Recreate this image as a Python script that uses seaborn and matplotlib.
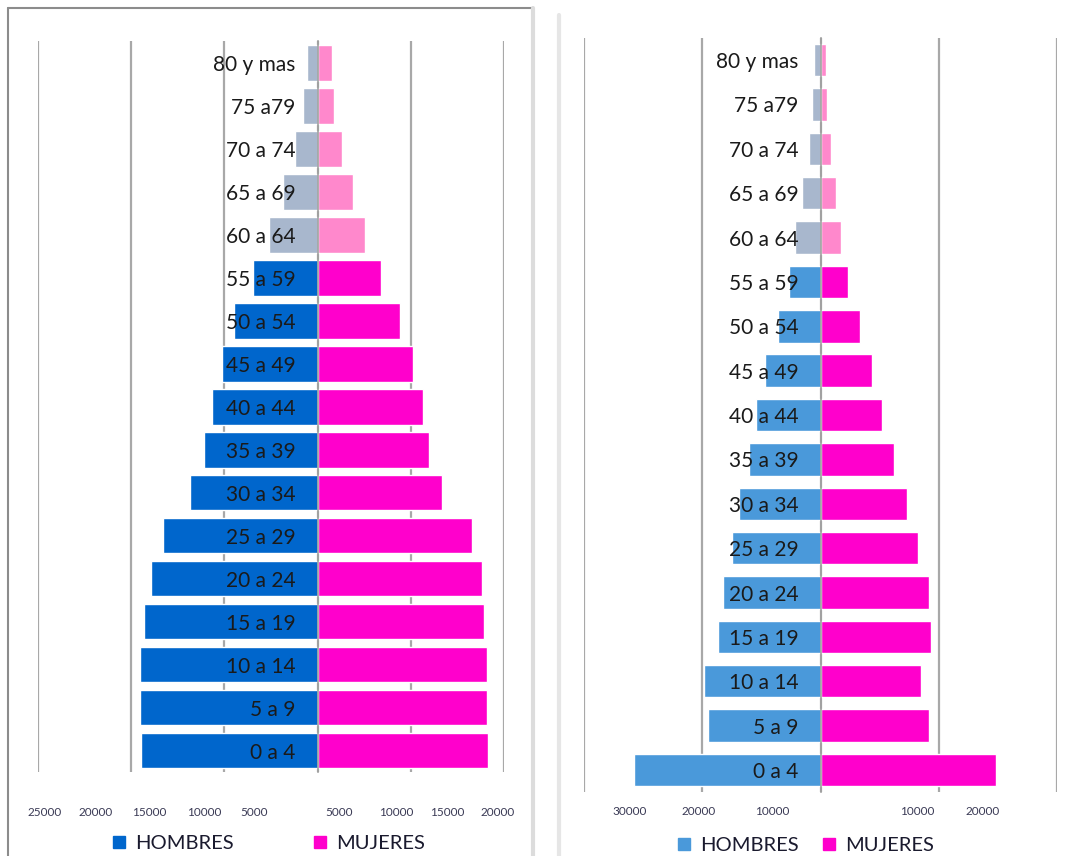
import numpy as np
import pandas as pd
import matplotlib.pyplot as plt
import seaborn as sns
from matplotlib.lines import Line2D

# grupos de edad, de arriba hacia abajo
edades = ['80 y mas', '75 a79', '70 a 74', '65 a 69', '60 a 64', '55 a 59', '50 a 54',
          '45 a 49', '40 a 44', '35 a 39', '30 a 34', '25 a 29', '20 a 24', '15 a 19',
          '10 a 14', '5 a 9', '0 a 4']
mayores = ['80 y mas', '75 a79', '70 a 74', '65 a 69', '60 a 64']

# piramide izquierda
hombres_1 = [1100, 1550, 2400, 3700, 5250, 6900, 9000, 10250, 11300, 12200, 13700,
             16600, 17900, 18600, 19100, 19050, 18950]
mujeres_1 = [1500, 1800, 2650, 3800, 5050, 6800, 8800, 10200, 11300, 11900, 13400,
             16550, 17600, 17900, 18200, 18150, 18300]

# piramide derecha
hombres_2 = [775, 1040, 1460, 2330, 3250, 4040, 5400, 7030, 8200, 9100, 10300,
             11200, 12400, 13060, 14800, 14300, 23650]
mujeres_2 = [725, 800, 1360, 2000, 2650, 3500, 4960, 6500, 7860, 9370, 10950,
             12370, 13800, 14000, 12800, 13800, 22300]

# etiquetas del eje x (tal como aparecen, desalineadas)
etiq_1 = ['25000', '20000', '15000', '10000', '5000', '5000', '10000', '15000', '20000']
pos_etiq_1 = [-29280, -23780, -18020, -12190, -6850, 2300, 8460, 13950, 19360]
etiq_2 = ['30000', '20000', '10000', '10000', '20000']
pos_etiq_2 = [-24170, -15420, -6150, 12220, 20570]

sns.set_style('white')
plt.rcParams['font.family'] = ['Lato', 'DejaVu Sans']


def armar_tabla(hombres, mujeres):
    filas = []
    for e, h, m in zip(edades, hombres, mujeres):
        sufijo = ' mayor' if e in mayores else ''
        filas.append({'edad': e, 'valor': -h, 'grupo': 'H' + sufijo})
        filas.append({'edad': e, 'valor': m, 'grupo': 'M' + sufijo})
    return pd.DataFrame(filas)


def piramide(ax, tabla, colores, ancho, limites, paso, etiq, pos_etiq, pad_x):
    sns.barplot(data=tabla, x='valor', y='edad', hue='grupo', order=edades,
                palette=colores, dodge=False, orient='h', width=ancho,
                errorbar=None, legend=False, ax=ax, saturation=1)
    ax.set_xlim(*limites)
    ax.set_ylim(len(edades) - 0.5, -0.5)
    ax.set_xlabel('')
    ax.set_ylabel('')
    ax.set_xticks(np.arange(limites[0], limites[1] + 1, paso))
    ax.set_xticklabels([])
    ax.set_xticks(pos_etiq, minor=True)
    ax.set_xticklabels(etiq, minor=True)
    ax.tick_params(axis='x', which='both', length=0)
    ax.tick_params(axis='x', which='minor', labelsize=8.5, labelcolor='#3a3a55', pad=pad_x)
    ax.grid(axis='x', which='major', color='#a8a8a8', lw=1.6)
    ax.set_yticks(np.arange(-0.5, len(edades), 1), minor=True)
    ax.tick_params(axis='y', which='major', length=0, pad=16, labelsize=15,
                   labelcolor='#1a1a1a')
    ax.tick_params(axis='y', which='minor', length=4, width=1, color='#a0a0a0',
                   direction='out')
    for s in ['top', 'right', 'bottom']:
        ax.spines[s].set_visible(False)
    ax.spines['left'].set_position(('data', 0))
    ax.spines['left'].set_color('#a0a0a0')
    ax.spines['left'].set_linewidth(1.2)
    ax.set_axisbelow(True)
    ax.yaxis.set_zorder(5)


W, H = 1069, 856
fig = plt.figure(figsize=(W / 100, H / 100), dpi=100)

ax1 = fig.add_axes([38 / W, 1 - 772 / H, (504 - 38) / W, (772 - 41.4) / H])
ax2 = fig.add_axes([584 / W, 1 - 792.2 / H, (1057 - 584) / W, (792.2 - 37.9) / H])

col_1 = {'H': '#0066CC', 'H mayor': '#A8B7CD', 'M': '#FF00CC', 'M mayor': '#FF88CC'}
col_2 = {'H': '#4A99DA', 'H mayor': '#A8B7CD', 'M': '#FF00CC', 'M mayor': '#FF88CC'}

piramide(ax1, armar_tabla(hombres_1, mujeres_1), col_1, 0.83, (-30000, 20000), 10000,
         etiq_1, pos_etiq_1, 25.5)
piramide(ax2, armar_tabla(hombres_2, mujeres_2), col_2, 0.73, (-30000, 30000), 15000,
         etiq_2, pos_etiq_2, 10)

# marcos de los dos graficos
fig.add_artist(Line2D([8 / W, 8 / W], [0, 1 - 8 / H], transform=fig.transFigure,
                      color='#8c8c8c', lw=1.5))
fig.add_artist(Line2D([8 / W, 533 / W], [1 - 8 / H, 1 - 8 / H], transform=fig.transFigure,
                      color='#8c8c8c', lw=1.5))
fig.add_artist(Line2D([533 / W, 533 / W], [0, 1 - 8 / H], transform=fig.transFigure,
                      color='#dcdcdc', lw=3))
fig.add_artist(Line2D([559 / W, 559 / W], [0, 1 - 15 / H], transform=fig.transFigure,
                      color='#e6e6e6', lw=3))

# leyendas
def leyenda(c_h, x, y, espacio):
    manijas = [Line2D([], [], marker='s', color=c_h, linestyle='', markersize=8),
               Line2D([], [], marker='s', color='#FF00CC', linestyle='', markersize=8)]
    fig.legend(manijas, ['HOMBRES', 'MUJERES'], loc='center', bbox_to_anchor=(x, y),
               ncol=2, frameon=False, fontsize=14.5, handlelength=0.6,
               handletextpad=0.5, columnspacing=espacio, labelcolor='#1a1a2e')


leyenda('#0066CC', 269 / W, 1 - 843 / H, 4.0)
leyenda('#4A99DA', 806 / W, 1 - 845 / H, 1.2)

fig.savefig('out.png', dpi=100)
